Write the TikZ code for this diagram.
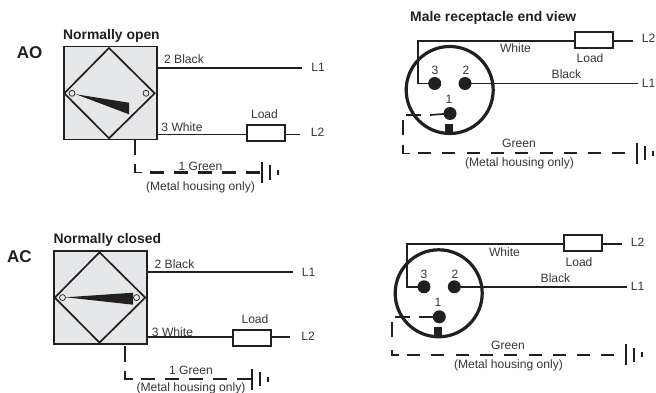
\documentclass[tikz,border=0pt]{standalone}
\usepackage{fontspec}
\setmainfont{Liberation Sans}
\definecolor{ink}{HTML}{231F20}
\definecolor{boxgray}{HTML}{E6E7E8}
\tikzset{
  wire/.style={draw=ink,line width=1.7pt},
  dash wire/.style={draw=ink,line width=2pt,dash pattern=on 14pt off 10pt},
  heavy/.style={draw=ink,line width=1.9pt},
  loadbox/.style={draw=ink,line width=1.8pt,fill=white,minimum width=38pt,minimum height=16pt,inner sep=0pt,outer sep=0pt},
  pin/.style={circle,fill=ink,minimum size=13pt,inner sep=0pt,outer sep=0pt},
  lab/.style={text=ink!90,font=\fontsize{12.1}{14}\selectfont,inner sep=0pt},
  head/.style={text=ink,font=\fontsize{13.9}{15}\selectfont\bfseries,inner sep=0pt,anchor=west},
  tag/.style={text=ink,font=\fontsize{17}{18}\selectfont\bfseries,inner sep=0pt},
}
\newcommand{\earthbars}[1]{%
  \draw[heavy] ([yshift=-10.5pt]#1) -- ([yshift=10.5pt]#1);
  \draw[heavy] ([shift={(8,-7)}]#1) -- ([shift={(8,7)}]#1);
  \draw[heavy] ([shift={(16,-2.5)}]#1) -- ([shift={(16,2.5)}]#1);
}
\newcommand{\sensorblock}[2]{%
  \node[draw=ink,line width=1.9pt,fill=boxgray,minimum width=93pt,minimum height=93pt,inner sep=0pt,outer sep=0pt] (box) at (110.2,93) {};
  \coordinate (dT) at (109,48);
  \coordinate (dR) at (154.7,93.3);
  \coordinate (dB) at (109,138.3);
  \coordinate (dL) at (64.3,93.3);
  \draw[line width=1.7pt,draw=ink] (dT) -- (dR) -- (dB) -- (dL) -- cycle;
  \fill[ink] #1 -- cycle;
  \node[circle,draw=ink,line width=.7pt,fill=boxgray,minimum size=6pt,inner sep=0pt] (cL) at (72,93.3) {};
  \node[circle,draw=ink,line width=.7pt,fill=boxgray,minimum size=6pt,inner sep=0pt] (cR) at (146,93.3) {};
  \node[head] (title) at (63,36) {#2};
  \node[lab,anchor=base] (L1) at (318,72) {L1};
  \node[lab,anchor=base] (L2) at (317.5,136.5) {L2};
  \coordinate (b2) at (157,68);
  \coordinate (e2) at (302,68);
  \draw[wire] (b2) -- (e2);
  \node[lab,anchor=base] (t2) at (184,64) {2 Black};
  \node[lab,anchor=base] (t3) at (182,132) {3 White};
  \node[lab,anchor=base] (tl) at (264.5,119) {Load};
}
\begin{document}
\begin{tikzpicture}[x=1pt,y=-1pt]
\useasboundingbox (0,0) rectangle (656,393);
\fill[white] (0,0) rectangle (656,393);

% ---------- AO
\node[tag] (AO) at (29.5,53) {AO};
\begin{scope}
  \sensorblock{(76,94.3) -- (129,102.7) -- (129,114.3)}{Normally open}
  \node[loadbox] (load) at (265.7,133.3) {};
  \coordinate (b3) at (157,134.5);
  \coordinate (e3) at (300,134.5);
  \draw[wire] (b3) -- (load.west |- b3);
  \draw[wire] (load.east |- e3) -- (e3);
  \coordinate (g0) at (135,140);
  \coordinate (g1) at (135,155);
  \draw[wire] (g0) -- (g1);
  \coordinate (c0) at (135,164);
  \coordinate (c1) at (135,172.5);
  \coordinate (c2) at (142,172.5);
  \draw[wire] (c0) -- (c1) -- (c2);
  \coordinate (gnd) at (262,172.5);
  \draw[dash wire] (150,172.5) -- (gnd);
  \earthbars{gnd}
  \node[lab,anchor=base] (tg) at (200.5,171) {1 Green};
  \node[lab,anchor=base] (tm) at (200.5,190) {(Metal housing only)};
\end{scope}

% ---------- AC
\node[tag] (AC) at (19.5,257) {AC};
\begin{scope}[shift={(-9.5,204.3)}]
  \sensorblock{(75.2,93) -- (142.5,88.4) -- (142.5,100.4)}{Normally closed}
  \node[loadbox] (loadb) at (261.5,133.3) {};
  \coordinate (b3b) at (157,133);
  \coordinate (e3b) at (299.5,133);
  \draw[wire] (b3b) -- (loadb.west |- b3b);
  \draw[wire] (loadb.east |- e3b) -- (e3b);
  \coordinate (g0b) at (134.5,142);
  \coordinate (c1b) at (134.5,175);
  \coordinate (c2b) at (142,175);
  \draw[dash wire,dash pattern=on 16pt off 8pt] (g0b) -- (134.5,166);
  \draw[wire] (134.5,167) -- (c1b) -- (c2b);
  \coordinate (gndb) at (261.5,175);
  \draw[dash wire] (150,175) -- (gndb);
  \earthbars{gndb}
  \node[lab,anchor=base] (tgb) at (200.5,170) {1 Green};
  \node[lab,anchor=base] (tmb) at (200.5,187.5) {(Metal housing only)};
\end{scope}

% ---------- Right top
\node[head] (mtitle) at (410,18) {Male receptacle end view};
\begin{scope}
  \node[circle,draw=ink,line width=3.2pt,minimum size=87pt,inner sep=0pt,outer sep=0pt] (shell) at (449.7,90) {};
  \node[pin] (p3) at (434.7,83.5) {};
  \node[pin] (p2) at (465,83.5) {};
  \node[pin] (p1) at (450,113.5) {};
  \node[fill=ink,minimum width=8pt,minimum height=10pt,inner sep=0pt] (keyt) at (449,129) {};
  \node[loadbox] (lr) at (593.7,40) {};
  \coordinate (cw) at (418,41);
  \draw[wire] (p3.center) -- (418,83.5) -- (cw) -- (lr.west |- cw);
  \coordinate (w2) at (633,41);
  \draw[wire] (lr.east |- w2) -- (w2);
  \coordinate (k2) at (638,83.5);
  \draw[wire] (p2.center) -- (k2);
  \draw[wire] (p1.center) -- (430,115);
  \draw[wire] (406,115) -- (421,115);
  \draw[wire] (403,120) -- (403,135);
  \draw[wire] (403,145) -- (403,153.5) -- (410,153.5);
  \coordinate (gr) at (637,153.5);
  \draw[dash wire,dash pattern=on 13pt off 11.3pt] (418,153.5) -- (630,153.5);
  \earthbars{gr}
  \node[lab,anchor=base] (n3) at (435,75) {3};
  \node[lab,anchor=base] (n2) at (466,75) {2};
  \node[lab,anchor=base] (n1) at (449,103.5) {1};
  \node[lab,anchor=base] (wh) at (515.5,53) {White};
  \node[lab,anchor=base] (lo) at (590,63) {Load};
  \node[lab,anchor=base] (bl) at (566.5,79) {Black};
  \node[lab,anchor=base] (gr1) at (519,148) {Green};
  \node[lab,anchor=base] (mh) at (519.5,167) {(Metal housing only)};
  \node[lab,anchor=base] (l1) at (648.5,88) {L1};
  \node[lab,anchor=base] (l2) at (648.5,43) {L2};
\end{scope}

% ---------- Right bottom
\begin{scope}[shift={(-11,203.3)}]
  \node[circle,draw=ink,line width=3.2pt,minimum size=87pt,inner sep=0pt,outer sep=0pt] (shellb) at (449.7,90) {};
  \node[pin] (q3) at (435,83.5) {};
  \node[pin] (q2) at (465.3,83.5) {};
  \node[pin] (q1) at (450.3,113.5) {};
  \node[fill=ink,minimum width=8pt,minimum height=10pt,inner sep=0pt] (keyb) at (449,129) {};
  \node[loadbox] (lb) at (593.7,40) {};
  \coordinate (cwb) at (418,41);
  \draw[wire] (q3.center) -- (418,83.5) -- (cwb) -- (lb.west |- cwb);
  \coordinate (w2b) at (633,41);
  \draw[wire] (lb.east |- w2b) -- (w2b);
  \coordinate (k2b) at (638,83.5);
  \draw[wire] (q2.center) -- (k2b);
  \draw[wire] (q1.center) -- (430,113.5);
  \draw[wire] (406,113.5) -- (421,113.5);
  \draw[wire] (403,119) -- (403,134);
  \draw[wire] (403,147) -- (403,152) -- (410,152);
  \coordinate (grb) at (637,151.5);
  \draw[dash wire,dash pattern=on 13pt off 11.3pt] (418,152) -- (630,152);
  \earthbars{grb}
  \node[lab,anchor=base] (m3) at (435,75) {3};
  \node[lab,anchor=base] (m2) at (466,75) {2};
  \node[lab,anchor=base] (m1) at (449,103.5) {1};
  \node[lab,anchor=base] (whb) at (515.5,53) {White};
  \node[lab,anchor=base] (lob) at (590,63) {Load};
  \node[lab,anchor=base] (blb) at (566.5,79) {Black};
  \node[lab,anchor=base] (grt) at (519,146) {Green};
  \node[lab,anchor=base] (mhb) at (519.5,165) {(Metal housing only)};
  \node[lab,anchor=base] (l1b) at (648.5,87) {L1};
  \node[lab,anchor=base] (l2b) at (648.5,43) {L2};
\end{scope}
\end{tikzpicture}
\end{document}
